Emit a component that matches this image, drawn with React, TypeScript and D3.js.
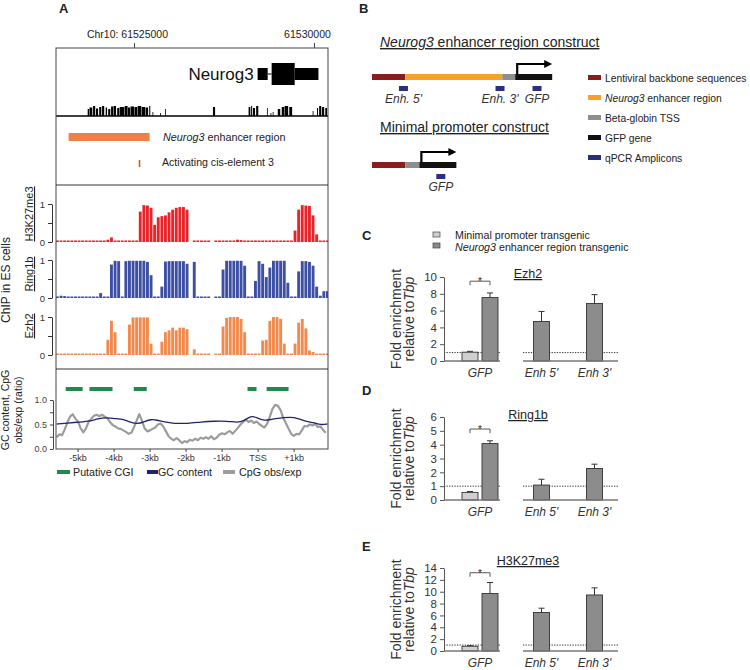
import React, { useEffect, useRef } from 'react';
import * as d3 from 'd3';

const FONT = "'Liberation Sans', Arial, Helvetica, sans-serif";
const INK = '#222';

// ---------- Panel A: positions in kb relative to the Neurog3 TSS ----------
const tssCoord = 61528420;
const chrTicks = [61525000, 61530000];
const chrTickLabels = ['Chr10: 61525000', '61530000'];

const geneExons = [
    { start: 0.0, end: 0.28, coding: false },
    { start: 0.39, end: 1.03, coding: true },
    { start: 1.03, end: 1.69, coding: false },
];

// conservation blocks: [start, end, score]
const conservation = [
    [-4.72, -4.67, 0.7], [-4.67, -4.58, 0.85], [-4.57, -4.5, 1.0], [-4.49, -4.42, 0.75],
    [-4.4, -4.33, 0.9], [-4.32, -4.25, 1.0], [-4.22, -4.17, 0.85], [-4.15, -4.08, 0.7],
    [-4.07, -4.0, 0.95], [-4.0, -3.92, 1.0], [-3.9, -3.83, 0.8], [-3.83, -3.69, 0.9],
    [-3.69, -3.6, 1.0], [-3.6, -3.53, 0.85], [-3.53, -3.42, 0.95], [-3.42, -3.33, 0.9],
    [-3.33, -3.22, 1.0], [-3.22, -3.11, 0.9], [-3.11, -3.03, 0.85], [-3.01, -2.97, 1.0],
    [-2.92, -2.89, 0.4], [-2.71, -2.68, 0.3], [-2.57, -2.54, 0.7], [-1.24, -1.17, 0.9],
    [-0.25, -0.19, 0.9], [-0.18, -0.14, 1.0], [-0.13, -0.06, 0.8], [-0.04, 0.03, 1.0],
    [0.26, 0.29, 0.8], [0.36, 0.39, 0.3], [0.42, 0.44, 0.4], [0.56, 0.64, 0.7],
    [0.67, 0.75, 0.9], [0.75, 0.86, 1.0], [0.88, 0.97, 0.9], [1.53, 1.56, 0.5],
    [1.65, 1.69, 0.8], [1.71, 1.78, 1.0], [1.79, 1.86, 0.9], [1.88, 1.94, 0.8],
];

const enhancerRegion = [-5.25, -3.0];
const cisElement3 = -3.28;

// ChIP-chip signal, 100 bp probes starting at -5.6 kb
const chipBinStart = -5.6;
const chipBinSize = 0.1;
const h3k27me3Signal = [
    0.04, 0.04, 0.04, 0.04, 0.04, 0.04, 0.04, 0.04, 0.04, 0.04,
    0.04, 0.04, 0.04, 0.04, 0.06, 0.12, 0.04, 0.04, 0.04, 0.04,
    0.04, 0.04, 0.04, 0.8, 0.97, 0.96, 0.9, 0.45, 0.65, 0.68,
    0.7, 0.78, 0.85, 0.9, 0.92, 0.92, 0.85, null, 0.04, 0.04,
    0.04, 0.04, 0.04, null, 0.04, 0.04, 0.04, 0.04, 0.04, 0.04,
    0.06, 0.05, 0.04, 0.04, 0.04, 0.04, 0.04, 0.04, 0.04, 0.04,
    0.04, 0.04, 0.04, 0.04, 0.04, 0.04, 0.3, 0.85, 0.97, 0.96,
    0.95, 0.7, 0.2, 0.04, 0.04, 0.04,
];
const ring1bSignal = [
    0.04, 0.06, 0.05, 0.04, 0.04, 0.04, 0.04, 0.04, 0.04, 0.04,
    0.04, 0.04, 0.13, 0.04, 0.04, 0.88, 0.98, 0.97, 0.04, 0.97,
    0.98, 0.98, 0.98, 0.98, 0.98, 0.95, 0.6, 0.04, 0.04, 0.3,
    0.96, 0.97, 0.97, 0.97, 0.97, 0.97, 0.9, null, 0.95, 0.04,
    0.04, 0.04, 0.04, null, 0.04, 0.04, 0.75, 0.98, 0.98, 0.98,
    0.98, 0.98, 0.85, 0.04, 0.04, 0.45, 0.97, 0.9, 0.55, 0.8,
    0.98, 0.98, 0.98, 0.98, 0.4, 0.04, 0.04, 0.7, 0.97, 0.97,
    0.95, 0.85, 0.3, 0.06, 0.18, 0.18,
];
const ezh2Signal = [
    0.04, 0.04, 0.04, 0.04, 0.04, 0.04, 0.04, 0.04, 0.04, 0.04,
    0.04, 0.04, 0.04, 0.04, 0.4, 0.9, 0.6, 0.04, 0.04, 0.04,
    0.8, 0.99, 0.99, 0.99, 0.99, 0.99, 0.3, 0.04, 0.04, 0.35,
    0.6, 0.65, 0.72, 0.65, 0.72, 0.72, 0.68, null, 0.15, 0.04,
    0.04, 0.04, 0.04, null, 0.04, 0.04, 0.75, 0.98, 1.0, 1.0,
    1.0, 0.95, 0.6, 0.04, 0.04, 0.04, 0.04, 0.38, 0.4, 0.9,
    1.0, 1.0, 0.95, 0.3, 0.04, 0.04, 0.3, 0.85, 0.95, 0.7,
    0.12, 0.08, 0.04, 0.04, 0.04, 0.04,
];

const cgiIslands = [[-5.33, -4.86], [-4.67, -4.03], [-3.44, -3.08], [-0.28, -0.03], [0.25, 0.86]];

const gcContent = [
    [-5.58, 0.51], [-5.29, 0.53], [-4.94, 0.55], [-4.64, 0.57], [-4.45, 0.62], [-4.18, 0.64],
    [-3.97, 0.62], [-3.71, 0.61], [-3.53, 0.54], [-3.34, 0.51], [-3.16, 0.55], [-2.97, 0.61],
    [-2.79, 0.59], [-2.6, 0.55], [-2.32, 0.52], [-1.95, 0.52], [-1.58, 0.55], [-1.21, 0.57],
    [-0.84, 0.57], [-0.56, 0.54], [-0.38, 0.57], [-0.19, 0.68], [-0.01, 0.64], [0.18, 0.57],
    [0.45, 0.62], [0.73, 0.64], [1.01, 0.66], [1.29, 0.57], [1.56, 0.54], [1.75, 0.49], [1.94, 0.51],
];

// CpG obs/exp sliding window
const cpgStart = -5.58;
const cpgStep = 0.074;
const cpgObsExp = [
    0.24, 0.3, 0.28, 0.4, 0.54, 0.66, 0.71, 0.62, 0.56, 0.42,
    0.34, 0.42, 0.56, 0.62, 0.68, 0.7, 0.67, 0.7, 0.66, 0.63,
    0.55, 0.49, 0.46, 0.42, 0.41, 0.38, 0.35, 0.31, 0.33, 0.44,
    0.58, 0.71, 0.58, 0.42, 0.36, 0.38, 0.41, 0.44, 0.5, 0.52,
    0.46, 0.36, 0.26, 0.21, 0.18, 0.22, 0.18, 0.12, 0.16, 0.14,
    0.19, 0.17, 0.21, 0.18, 0.23, 0.21, 0.24, 0.21, 0.26, 0.2,
    0.23, 0.29, 0.32, 0.3, 0.34, 0.37, 0.31, 0.37, 0.43, 0.5,
    0.55, 0.6, 0.55, 0.58, 0.53, 0.56, 0.51, 0.47, 0.44, 0.52,
    0.66, 0.82, 0.9, 0.88, 0.8, 0.64, 0.53, 0.42, 0.31, 0.27,
    0.31, 0.3, 0.38, 0.47, 0.46, 0.5, 0.48, 0.51, 0.45, 0.46,
    0.39, 0.33,
];

const gcTicks = [-5, -4, -3, -2, -1, 0, 1];
const gcTickLabels = ['-5kb', '-4kb', '-3kb', '-2kb', '-1kb', 'TSS', '+1kb'];

// ---------- Panel B: constructs (lengths in kb) ----------
const enhancerConstructParts = ['backbone', 'enhancer', 'tss', 'gfp'];
const enhancerConstructLengths = [0.9, 2.62, 0.35, 1.0];
const minimalConstructParts = ['backbone', 'tss', 'gfp'];
const minimalConstructLengths = [0.9, 0.38, 1.0];
const enhancerAmplicons = ["Enh. 5'", "Enh. 3'", 'GFP'];
const enhancerAmpliconPos = [0.85, 3.46, 4.46];
const minimalAmplicons = ['GFP'];
const minimalAmpliconPos = [1.86];
const partLabels = ['Lentiviral backbone sequences', 'Neurog3 enhancer region', 'Beta-globin TSS', 'GFP gene', 'qPCR Amplicons'];
const partKeys = ['backbone', 'enhancer', 'tss', 'gfp', 'amplicon'];
const partColors = ['#8B1C1C', '#F7A12A', '#8E8E8E', '#111111', '#28307F'];

// ---------- Panels C-E: ChIP-qPCR ----------
const barSites = ['GFP', "Enh 5'", "Enh 3'"];

const ezh2Enhancer = [7.55, 4.7, 6.85];
const ezh2EnhancerErr = [0.55, 1.2, 1.05];
const ezh2Minimal = 1.05;
const ezh2MinimalErr = 0.1;
const ezh2Ticks = [0, 2, 4, 6, 8, 10];

const ring1bEnhancer = [4.08, 1.08, 2.28];
const ring1bEnhancerErr = [0.2, 0.42, 0.31];
const ring1bMinimal = 0.55;
const ring1bMinimalErr = 0.06;
const ring1bTicks = [0, 1, 2, 3, 4, 5, 6];

const h3k27Enhancer = [9.7, 6.5, 9.45];
const h3k27EnhancerErr = [1.85, 0.72, 1.2];
const h3k27Minimal = 0.8;
const h3k27MinimalErr = 0.1;
const h3k27Ticks = [0, 2, 4, 6, 8, 10, 12, 14];

const sigLevels = [9.5, 5.13, 13.2];

function richText(parent, x, y, parts, size, opts: any = {}) {
    const t = parent.append('text')
        .attr('font-size', size)
        .attr('fill', opts.fill || INK)
        .attr('text-anchor', opts.anchor || 'start');
    if (opts.rotate) {
        t.attr('transform', `translate(${x},${y}) rotate(-90)`);
    } else {
        t.attr('x', x).attr('y', y);
    }
    if (opts.underline) t.style('text-decoration', 'underline');
    if (opts.bold) t.attr('font-weight', 'bold');
    parts.forEach(([s, it]) => {
        t.append('tspan').attr('font-style', it ? 'italic' : 'normal').text(s);
    });
    return t;
}

function drawPanelA(svg) {
    const g = svg.append('g');
    const left = 56, right = 328, top = 48, div1 = 185, div2 = 369, bottom = 449;
    const x = d3.scaleLinear().domain([-5.6, 2.0]).range([56, 329.6]);

    svg.append('defs').append('clipPath').attr('id', 'clipA')
        .append('rect').attr('x', left).attr('y', top).attr('width', right - left).attr('height', bottom - top);

    richText(g, 59, 13, [['A', false]], 13, { bold: true });

    // chromosome ticks
    chrTicks.forEach((p, i) => {
        const px = x((p - tssCoord) / 1000);
        g.append('line').attr('x1', px).attr('x2', px).attr('y1', 43).attr('y2', top).attr('stroke', '#444');
        richText(g, px - 7, 38, [[chrTickLabels[i], false]], 10.5, { anchor: 'middle' });
    });

    // gene model
    const geneY = 74;
    g.append('line')
        .attr('x1', x(geneExons[0].end)).attr('x2', x(geneExons[1].start))
        .attr('y1', geneY).attr('y2', geneY).attr('stroke', '#000');
    g.selectAll('rect.exon').data(geneExons).join('rect').attr('class', 'exon')
        .attr('x', d => x(d.start))
        .attr('width', d => x(d.end) - x(d.start))
        .attr('y', d => geneY - (d.coding ? 11 : 6))
        .attr('height', d => (d.coding ? 22 : 12))
        .attr('fill', '#000');
    richText(g, x(0) - 4, 80, [['Neurog3', false]], 17, { anchor: 'end', fill: '#111' });

    // conservation
    const consBase = 116;
    g.append('g').selectAll('rect').data(conservation).join('rect')
        .attr('x', d => x(d[0]))
        .attr('width', d => Math.max(0.8, x(d[1]) - x(d[0]) - 0.4))
        .attr('y', d => consBase - d[2] * 10)
        .attr('height', d => d[2] * 10)
        .attr('fill', '#000');
    g.append('line').attr('x1', left).attr('x2', right).attr('y1', consBase).attr('y2', consBase)
        .attr('stroke', '#000').attr('stroke-width', 1.3);

    // enhancer region and cis element
    g.append('rect').attr('x', x(enhancerRegion[0])).attr('width', x(enhancerRegion[1]) - x(enhancerRegion[0]))
        .attr('y', 133).attr('height', 8).attr('fill', '#F0804A');
    richText(g, 163, 141, [['Neurog3', true], [' enhancer region', false]], 10.8);
    g.append('rect').attr('x', x(cisElement3) - 0.8).attr('width', 1.6)
        .attr('y', 160).attr('height', 7).attr('fill', '#B8642A');
    richText(g, 162, 166, [['Activating cis-element 3', false]], 10.6);

    // ChIP tracks
    const tracks = [
        { name: 'H3K27me3', values: h3k27me3Signal, color: '#E8242B', base: 242, labelY: 214 },
        { name: 'Ring1b', values: ring1bSignal, color: '#3C4FA3', base: 298, labelY: 274 },
        { name: 'Ezh2', values: ezh2Signal, color: '#F28A4E', base: 355, labelY: 326 },
    ];
    tracks.forEach(t => {
        const y = d3.scaleLinear().domain([0, 1]).range([t.base, t.base - 38]);
        const bins = t.values
            .map((v, i) => ({ v, x0: chipBinStart + i * chipBinSize, x1: chipBinStart + (i + 1) * chipBinSize }))
            .filter(d => d.v !== null);
        g.append('g').attr('clip-path', 'url(#clipA)')
            .selectAll('rect').data(bins).join('rect')
            .attr('x', d => x(d.x0))
            .attr('width', d => x(d.x1) - x(d.x0) - 0.7)
            .attr('y', d => y(d.v))
            .attr('height', d => t.base - y(d.v))
            .attr('fill', t.color);

        const ax = g.append('g').attr('transform', 'translate(52,0)')
            .call(d3.axisLeft(y).tickValues([0, 0.5, 1])
                .tickFormat(d => (d === 0.5 ? '' : String(d)))
                .tickSize(4).tickSizeOuter(0));
        ax.attr('font-family', FONT).attr('font-size', 9.5);
        ax.selectAll('text').attr('fill', '#333');
        ax.selectAll('line,path').attr('stroke', '#333');

        richText(g, 33, t.labelY, [[t.name, false]], 11, { rotate: true, anchor: 'middle', underline: true });
    });
    richText(g, 10, 280, [['ChIP in ES cells', false]], 12, { rotate: true, anchor: 'middle' });

    // GC / CpG panel
    const gy = d3.scaleLinear().domain([0, 1]).range([bottom, 400]);
    g.append('g').selectAll('rect').data(cgiIslands).join('rect')
        .attr('x', d => x(d[0])).attr('width', d => x(d[1]) - x(d[0]))
        .attr('y', 387).attr('height', 4).attr('fill', '#1F8A4D');

    const cpgLine = d3.line<number>()
        .x((d, i) => x(cpgStart + i * cpgStep))
        .y(d => gy(d));
    g.append('path').datum(cpgObsExp).attr('d', cpgLine)
        .attr('fill', 'none').attr('stroke', '#9C9C9C').attr('stroke-width', 2.2).attr('stroke-linejoin', 'round');

    const gcLine = d3.line<number[]>()
        .x(d => x(d[0]))
        .y(d => gy(d[1]))
        .curve(d3.curveBasis);
    g.append('path').datum(gcContent).attr('d', gcLine)
        .attr('fill', 'none').attr('stroke', '#22226E').attr('stroke-width', 1.3);

    const gax = g.append('g').attr('transform', 'translate(53,0)')
        .call(d3.axisLeft(gy).tickValues([0, 0.25, 0.5, 0.75, 1])
            .tickFormat(d => (Number(d) % 0.5 === 0 ? Number(d).toFixed(1) : ''))
            .tickSize(3).tickSizeOuter(0));
    gax.attr('font-family', FONT).attr('font-size', 9);
    gax.selectAll('text').attr('fill', '#444');
    gax.selectAll('line,path').attr('stroke', '#444');

    const xax = g.append('g').attr('transform', `translate(0,${bottom})`)
        .call(d3.axisBottom(x).tickValues(gcTicks)
            .tickFormat((d, i) => gcTickLabels[i]).tickSize(3));
    xax.select('.domain').remove();
    xax.attr('font-family', FONT).attr('font-size', 9);
    xax.selectAll('text').attr('fill', '#333');
    xax.selectAll('line').attr('stroke', '#444');

    richText(g, 9, 410, [['GC content, CpG', false]], 10.5, { rotate: true, anchor: 'middle' });
    richText(g, 22, 410, [['obs/exp (ratio)', false]], 10.5, { rotate: true, anchor: 'middle' });

    // GC legend
    const gcLegend = [
        { label: 'Putative CGI', color: '#1F8A4D', sx: 57, sw: 13, tx: 73 },
        { label: 'GC content', color: '#22226E', sx: 147, sw: 11, tx: 158 },
        { label: 'CpG obs/exp', color: '#9C9C9C', sx: 223, sw: 12, tx: 239 },
    ];
    gcLegend.forEach(l => {
        g.append('rect').attr('x', l.sx).attr('y', 470).attr('width', l.sw).attr('height', 4).attr('fill', l.color);
        richText(g, l.tx, 476, [[l.label, false]], 10.7);
    });

    // frame
    g.append('rect').attr('x', left).attr('y', top).attr('width', right - left).attr('height', bottom - top)
        .attr('fill', 'none').attr('stroke', '#444').attr('stroke-width', 1);
    [div1, div2].forEach(yy => {
        g.append('line').attr('x1', left).attr('x2', right).attr('y1', yy).attr('y2', yy)
            .attr('stroke', '#333').attr('stroke-width', 1.2);
    });
}

function drawConstruct(g, cx, parts, lengths, barY, amplicons, ampPos, ampY) {
    const starts = d3.cumsum([0, ...lengths]);
    parts.forEach((p, i) => {
        g.append('rect')
            .attr('x', cx(starts[i])).attr('width', cx(starts[i + 1]) - cx(starts[i]))
            .attr('y', barY).attr('height', 6)
            .attr('fill', partColors[partKeys.indexOf(p)]);
    });
    // transcription start arrow at the GFP gene
    const gi = parts.indexOf('gfp');
    const ax0 = cx(starts[gi]) + 2;
    const ax1 = cx(starts[gi + 1]);
    g.append('path')
        .attr('d', `M${ax0},${barY} V${barY - 10} H${ax1 - 7}`)
        .attr('fill', 'none').attr('stroke', '#000').attr('stroke-width', 2.2);
    g.append('path')
        .attr('d', `M${ax1},${barY - 10} L${ax1 - 8},${barY - 14} L${ax1 - 8},${barY - 6} Z`)
        .attr('fill', '#000');
    amplicons.forEach((a, i) => {
        const px = cx(ampPos[i]);
        g.append('rect').attr('x', px - 4.5).attr('width', 9).attr('y', ampY).attr('height', 5)
            .attr('fill', partColors[4]);
        richText(g, px, ampY + 17, [[a, true]], 12, { anchor: 'middle', fill: '#333' });
    });
}

function drawPanelB(svg) {
    const g = svg.append('g');
    richText(g, 359, 13, [['B', false]], 13, { bold: true });
    const cx = d3.scaleLinear().domain([0, 1]).range([372, 409]);

    richText(g, 380, 47, [['Neurog3', true], [' enhancer region construct', false]], 14, { underline: true });
    drawConstruct(g, cx, enhancerConstructParts, enhancerConstructLengths, 74, enhancerAmplicons, enhancerAmpliconPos, 86);

    richText(g, 380, 132, [['Minimal promoter construct', false]], 14, { underline: true });
    drawConstruct(g, cx, minimalConstructParts, minimalConstructLengths, 162, minimalAmplicons, minimalAmpliconPos, 174);

    partLabels.forEach((lab, i) => {
        const yy = 77.5 + i * 20;
        g.append('rect').attr('x', 588).attr('y', yy - 2.5).attr('width', 13).attr('height', 5).attr('fill', partColors[i]);
        const parts = lab.startsWith('Neurog3') ? [['Neurog3', true], [lab.slice(7), false]] : [[lab, false]];
        richText(g, 605, yy + 4, parts, 10.3);
    });
}

function drawBarChart(svg, cfg) {
    const g = svg.append('g');
    richText(g, 362, cfg.letterY, [[cfg.letter, false]], 13, { bold: true });

    const yMax = d3.max(cfg.ticks);
    const y = d3.scaleLinear().domain([0, yMax]).range([cfg.base, cfg.top]);
    const gfpX = d3.scaleBand().domain([barSites[0]]).range([444, 516]);
    const enhX = d3.scaleBand().domain(barSites.slice(1)).range([515, 621]);
    const center = s => (s === barSites[0] ? gfpX(s) + gfpX.bandwidth() / 2 : enhX(s) + enhX.bandwidth() / 2);
    const segments = [[444, 500], [523, 618]];
    const bw = 16;

    // reference line at 1
    segments.forEach(s => {
        g.append('line').attr('x1', s[0]).attr('x2', s[1]).attr('y1', y(1)).attr('y2', y(1))
            .attr('stroke', '#333').attr('stroke-width', 1).attr('stroke-dasharray', '1.3,1.3');
    });

    const bars = [
        { cx: center(barSites[0]) - 10, v: cfg.minimal, e: cfg.minimalErr, fill: '#CFCFCF' },
        ...barSites.map((s, i) => ({
            cx: center(s) + (i === 0 ? 10 : 0),
            v: cfg.enhancer[i], e: cfg.enhancerErr[i], fill: '#8C8C8C',
        })),
    ];
    bars.forEach(b => {
        g.append('line').attr('x1', b.cx).attr('x2', b.cx).attr('y1', y(b.v)).attr('y2', y(b.v + b.e))
            .attr('stroke', '#333').attr('stroke-width', 1);
        g.append('line').attr('x1', b.cx - 3).attr('x2', b.cx + 3).attr('y1', y(b.v + b.e)).attr('y2', y(b.v + b.e))
            .attr('stroke', '#333').attr('stroke-width', 1);
        g.append('rect').attr('x', b.cx - bw / 2).attr('width', bw)
            .attr('y', y(b.v)).attr('height', cfg.base - y(b.v))
            .attr('fill', b.fill).attr('stroke', '#333').attr('stroke-width', 0.9);
    });

    // axes
    const ax = g.append('g').attr('transform', 'translate(444,0)')
        .call(d3.axisLeft(y).tickValues(cfg.ticks).tickFormat(d3.format('d')).tickSize(4).tickSizeOuter(0));
    ax.attr('font-family', FONT).attr('font-size', 11.5);
    ax.selectAll('text').attr('fill', '#333');
    ax.selectAll('line,path').attr('stroke', '#555');
    segments.forEach(s => {
        g.append('line').attr('x1', s[0]).attr('x2', s[1]).attr('y1', cfg.base).attr('y2', cfg.base)
            .attr('stroke', '#777').attr('stroke-width', 1.6);
    });

    barSites.forEach(s => {
        richText(g, center(s), cfg.base + 16, [[s, true]], 12, { anchor: 'middle', fill: '#333' });
    });

    // significance bracket
    const by = y(cfg.sig);
    const bx0 = bars[0].cx, bx1 = bars[1].cx;
    g.append('path').attr('d', `M${bx0},${by + 4} V${by} H${bx1} V${by + 4}`)
        .attr('fill', 'none').attr('stroke', '#444').attr('stroke-width', 0.9);
    richText(g, (bx0 + bx1) / 2, by + 4, [['*', false]], 10, { anchor: 'middle' });

    richText(g, 528, cfg.titleY, [[cfg.title, false]], 12.5, { anchor: 'middle', underline: true });

    const my = (cfg.base + cfg.top) / 2;
    richText(g, 401, my, [['Fold enrichment', false]], 14, { rotate: true, anchor: 'middle', fill: '#333' });
    richText(g, 414, my, [['relative to', false], ['Tbp', true]], 14, { rotate: true, anchor: 'middle', fill: '#333' });
}

const App = () => {
    const svgRef = useRef<SVGSVGElement>(null);

    useEffect(() => {
        const svg = d3.select(svgRef.current);
        svg.selectAll('*').remove();
        svg.attr('font-family', FONT);

        drawPanelA(svg);
        drawPanelB(svg);

        // legend for C-E
        const lg = svg.append('g');
        lg.append('rect').attr('x', 433).attr('y', 232).attr('width', 7).attr('height', 5)
            .attr('fill', '#CFCFCF').attr('stroke', '#444').attr('stroke-width', 0.7);
        richText(lg, 455, 239, [['Minimal promoter transgenic', false]], 10.7);
        lg.append('rect').attr('x', 433).attr('y', 243).attr('width', 7).attr('height', 5)
            .attr('fill', '#8C8C8C').attr('stroke', '#444').attr('stroke-width', 0.7);
        richText(lg, 455, 251, [['Neurog3', true], [' enhancer region transgenic', false]], 10.7);

        drawBarChart(svg, {
            letter: 'C', letterY: 240, title: 'Ezh2', titleY: 278, base: 361, top: 277,
            ticks: ezh2Ticks, enhancer: ezh2Enhancer, enhancerErr: ezh2EnhancerErr,
            minimal: ezh2Minimal, minimalErr: ezh2MinimalErr, sig: sigLevels[0],
        });
        drawBarChart(svg, {
            letter: 'D', letterY: 395, title: 'Ring1b', titleY: 419, base: 500, top: 417,
            ticks: ring1bTicks, enhancer: ring1bEnhancer, enhancerErr: ring1bEnhancerErr,
            minimal: ring1bMinimal, minimalErr: ring1bMinimalErr, sig: sigLevels[1],
        });
        drawBarChart(svg, {
            letter: 'E', letterY: 551, title: 'H3K27me3', titleY: 565, base: 651, top: 568,
            ticks: h3k27Ticks, enhancer: h3k27Enhancer, enhancerErr: h3k27EnhancerErr,
            minimal: h3k27Minimal, minimalErr: h3k27MinimalErr, sig: sigLevels[2],
        });
    }, []);

    return (
        <svg ref={svgRef} width={750} height={670}
            style={{ position: 'absolute', left: 0, top: 0, background: '#fff', display: 'block' }} />
    );
};

export default App;
